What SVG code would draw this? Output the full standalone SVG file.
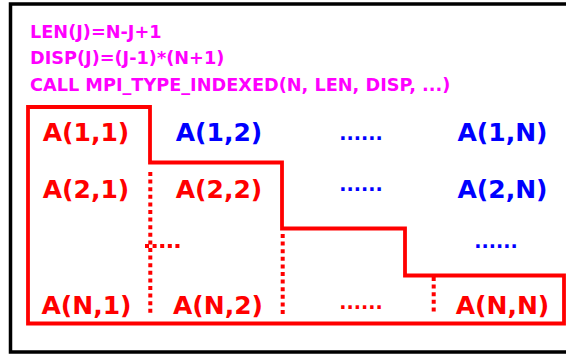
<svg xmlns="http://www.w3.org/2000/svg" width="566" height="354" viewBox="0 0 566 354">
<style>
.hdr{font-family:"DejaVu Sans",Verdana,sans-serif;font-weight:bold;font-size:17.7px;fill:#FF00FF}
.lbl{font-family:"DejaVu Sans",Verdana,sans-serif;font-weight:bold;font-size:25px;text-anchor:middle}
.red{fill:#FF0000}
.blue{fill:#0000FF}
.dots{font-family:"DejaVu Sans",Verdana,sans-serif;font-weight:bold;font-size:19px;text-anchor:middle}
.dotted{stroke:#FF0000;stroke-width:4;stroke-dasharray:4 3.6;fill:none}
</style>
<rect width="566" height="354" fill="#FFFFFF"/>
<rect id="frame" x="10.5" y="4" width="560" height="348" fill="none" stroke="#000000" stroke-width="3.5"/>
<g id="header">
<text class="hdr" x="30" y="37.5">LEN(J)=N-J+1</text>
<text class="hdr" x="30" y="64">DISP(J)=(J-1)*(N+1)</text>
<text class="hdr" x="30" y="90.5">CALL MPI_TYPE_INDEXED(N, LEN, DISP, ...)</text>
</g>
<g id="connectors">
<path d="M28,107 H150 V162.5 H282 V228.5 H405 V275.5 H564 V323.5 H28 Z" fill="none" stroke="#FF0000" stroke-width="3.8"/>
<line class="dotted" x1="150.3" y1="172" x2="150.3" y2="314"/>
<line class="dotted" x1="145" y1="246" x2="182" y2="246"/>
<line class="dotted" x1="282.7" y1="234" x2="282.7" y2="314"/>
<line class="dotted" x1="433.7" y1="277" x2="433.7" y2="312"/>
</g>
<g id="a11"><text class="lbl red" x="86" y="141">A(1,1)</text></g>
<g id="a12"><text class="lbl blue" x="219" y="141">A(1,2)</text></g>
<g id="d1"><text class="dots blue" x="361" y="140">......</text></g>
<g id="a1n"><text class="lbl blue" x="502.5" y="141">A(1,N)</text></g>
<g id="a21"><text class="lbl red" x="86" y="198">A(2,1)</text></g>
<g id="a22"><text class="lbl red" x="219" y="198">A(2,2)</text></g>
<g id="d2"><text class="dots blue" x="361" y="191">......</text></g>
<g id="a2n"><text class="lbl blue" x="502.5" y="198">A(2,N)</text></g>
<g id="d3"><text class="dots blue" x="496" y="248">......</text></g>
<g id="an1"><text class="lbl red" x="86.5" y="314">A(N,1)</text></g>
<g id="an2"><text class="lbl red" x="218" y="314">A(N,2)</text></g>
<g id="dn"><text class="dots red" x="361" y="309">......</text></g>
<g id="ann"><text class="lbl red" x="502.5" y="314">A(N,N)</text></g>
</svg>
